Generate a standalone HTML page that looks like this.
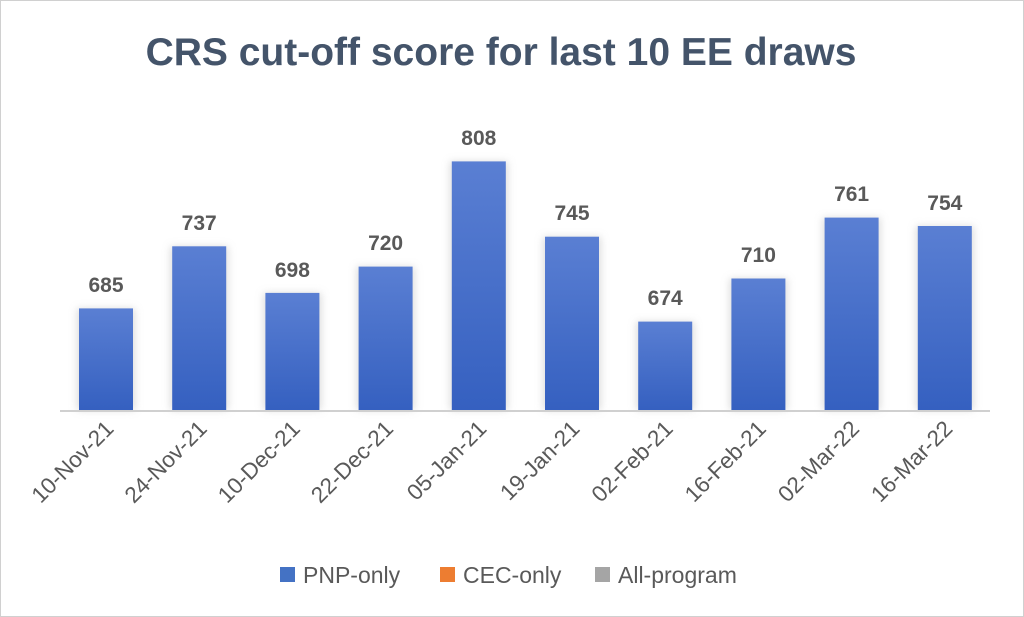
<!DOCTYPE html>
<html><head><meta charset="utf-8"><style>
html,body{margin:0;padding:0;background:#fff}
svg{display:block}
</style></head><body>
<svg width="1024" height="617" viewBox="0 0 1024 617" xmlns="http://www.w3.org/2000/svg" font-family="Liberation Sans, sans-serif">
<defs>
<linearGradient id="g" x1="0" y1="0" x2="0" y2="1">
<stop offset="0" stop-color="#5a7fd3"/><stop offset="1" stop-color="#3560c0"/>
</linearGradient>
<filter id="s" x="-30%" y="-10%" width="160%" height="120%"><feGaussianBlur stdDeviation="4"/></filter>
</defs>
<rect x="0.5" y="0.5" width="1023" height="616" fill="#fff" stroke="#d0d0d0"/>
<text x="501" y="65" text-anchor="middle" font-size="39" font-weight="bold" fill="#44546a">CRS cut-off score for last 10 EE draws</text>
<g fill="#bbb" opacity="0.5" filter="url(#s)">
<rect x="77" y="308.4" width="58" height="101.6"/>
<rect x="170.2" y="246.3" width="58" height="163.7"/>
<rect x="263.4" y="292.9" width="58" height="117.1"/>
<rect x="356.6" y="266.6" width="58" height="143.4"/>
<rect x="449.8" y="161.4" width="58" height="248.6"/>
<rect x="543" y="236.7" width="58" height="173.3"/>
<rect x="636.2" y="321.6" width="58" height="88.4"/>
<rect x="729.4" y="278.5" width="58" height="131.5"/>
<rect x="822.6" y="217.6" width="58" height="192.4"/>
<rect x="915.8" y="226" width="58" height="184"/>
</g>
<g fill="url(#g)">
<rect x="79" y="308.4" width="54" height="101.6"/>
<rect x="172.2" y="246.3" width="54" height="163.7"/>
<rect x="265.4" y="292.9" width="54" height="117.1"/>
<rect x="358.6" y="266.6" width="54" height="143.4"/>
<rect x="451.8" y="161.4" width="54" height="248.6"/>
<rect x="545" y="236.7" width="54" height="173.3"/>
<rect x="638.2" y="321.6" width="54" height="88.4"/>
<rect x="731.4" y="278.5" width="54" height="131.5"/>
<rect x="824.6" y="217.6" width="54" height="192.4"/>
<rect x="917.8" y="226" width="54" height="184"/>
</g>
<g font-size="21" font-weight="bold" fill="#595959" text-anchor="middle">
<text x="106" y="292">685</text>
<text x="199.2" y="230">737</text>
<text x="292.4" y="277">698</text>
<text x="385.6" y="250">720</text>
<text x="478.8" y="145">808</text>
<text x="572" y="220">745</text>
<text x="665.2" y="305">674</text>
<text x="758.4" y="262">710</text>
<text x="851.6" y="201">761</text>
<text x="944.8" y="210">754</text>
</g>
<g font-size="22.5" fill="#595959" text-anchor="end">
<text transform="translate(115,430) rotate(-45)">10-Nov-21</text>
<text transform="translate(208.2,430) rotate(-45)">24-Nov-21</text>
<text transform="translate(301.4,430) rotate(-45)">10-Dec-21</text>
<text transform="translate(394.6,430) rotate(-45)">22-Dec-21</text>
<text transform="translate(487.8,430) rotate(-45)">05-Jan-21</text>
<text transform="translate(581,430) rotate(-45)">19-Jan-21</text>
<text transform="translate(674.2,430) rotate(-45)">02-Feb-21</text>
<text transform="translate(767.4,430) rotate(-45)">16-Feb-21</text>
<text transform="translate(860.6,430) rotate(-45)">02-Mar-22</text>
<text transform="translate(953.8,430) rotate(-45)">16-Mar-22</text>
</g>
<line x1="60" y1="411" x2="990" y2="411" stroke="#d0d0d0" stroke-width="2"/>
<g font-size="23" fill="#595959">
<rect x="280" y="567" width="15" height="15" fill="#4472c4"/><text x="303" y="583">PNP-only</text>
<rect x="440" y="567" width="15" height="15" fill="#ed7d31"/><text x="463" y="583">CEC-only</text>
<rect x="595" y="567" width="15" height="15" fill="#a5a5a5"/><text x="618" y="583">All-program</text>
</g>
</svg>
</body></html>
